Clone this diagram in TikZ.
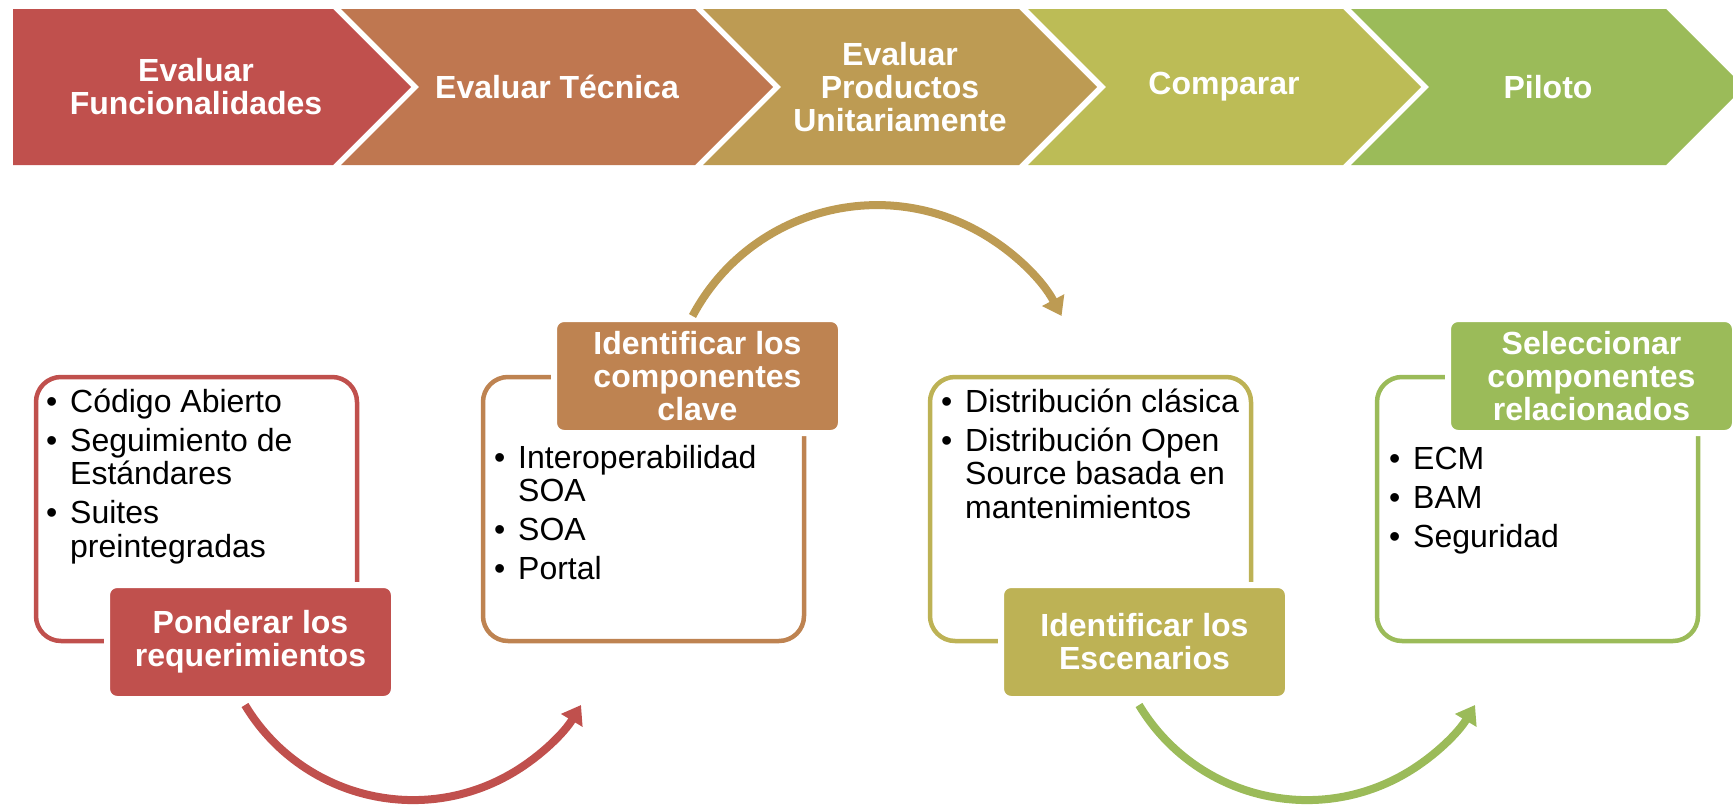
\documentclass[tikz,border=0pt]{standalone}
\usepackage{fontspec}
\setmainfont{Liberation Sans}
\usetikzlibrary{arrows.meta}
\definecolor{cA}{HTML}{C0504D}
\definecolor{cB}{HTML}{BF7750}
\definecolor{cC}{HTML}{BD9B53}
\definecolor{cD}{HTML}{BCBC56}
\definecolor{cE}{HTML}{9BBB59}
\definecolor{bB}{HTML}{BE8351}
\definecolor{bC}{HTML}{BDB255}
\newcommand{\bitem}[1]{\hangindent=24pt\hangafter=1\noindent\makebox[24pt][l]{•}#1\par}
\newcommand{\bgap}{\vspace{5.5pt}}
\begin{document}
\begin{tikzpicture}[x=1pt,y=-1pt,
  chevtext/.style={text=white, font=\fontsize{32}{33}\selectfont\bfseries, align=center, inner sep=0pt},
  outlinebox/.style={draw=#1, line width=4.5pt, rounded corners=25pt, minimum width=321pt, minimum height=264pt, inner sep=0pt},
  titlebox/.style={fill=#1, draw=white, line width=6pt, rounded corners=10pt, minimum width=287pt, minimum height=114pt, inner sep=0pt, text=white, font=\fontsize{32}{33}\selectfont\bfseries, align=center},
  bullets/.style={anchor=base west, inner sep=0pt, font=\fontsize{32}{33.5}\selectfont},
  flow/.style={line width=8pt, -{Triangle[length=18pt,width=24pt]}}]
\useasboundingbox (0,0) rectangle (1733,806);
% chevrons
\fill[cA] (13,9) -- (333,9) -- (411,87) -- (333,165) -- (13,165) -- cycle;
\fill[cB] (341,9) -- (695,9) -- (773,87) -- (695,165) -- (341,165) -- (419,87) -- cycle;
\fill[cC] (703,9) -- (1019,9) -- (1097,87) -- (1019,165) -- (703,165) -- (781,87) -- cycle;
\fill[cD] (1028,9) -- (1343,9) -- (1421,87) -- (1343,165) -- (1028,165) -- (1106,87) -- cycle;
\fill[cE] (1351,9) -- (1666,9) -- (1744,87) -- (1666,165) -- (1351,165) -- (1429,87) -- cycle;
\node[chevtext] (h1) at (196,87) {Evaluar\\Funcionalidades};
\node[chevtext] (h2) at (557,87) {Evaluar Técnica};
\node[chevtext] (h3) at (900,87) {Evaluar\\Productos\\Unitariamente};
\node[chevtext] (h4) at (1224,87) {Comparar};
\node[chevtext] (h5) at (1548,87) {Piloto};
% outline boxes
\node[outlinebox=cA] (o1) at (196.5,509) {};
\node[outlinebox=bB] (o2) at (643.5,509) {};
\node[outlinebox=bC] (o3) at (1090.5,509) {};
\node[outlinebox=cE] (o4) at (1537.5,509) {};
% title boxes
\node[titlebox=cA] (p1) at (250.5,642) {Ponderar los\\requerimientos};
\node[titlebox=bB] (p2) at (697.5,376) {Identificar los\\componentes\\clave};
\node[titlebox=bC] (p3) at (1144.5,642) {Identificar los\\Escenarios};
\node[titlebox=cE] (p4) at (1591.5,376) {Seleccionar\\componentes\\relacionados};
% bullet lists
\node[bullets] (l1) at (46,412) {\parbox[t]{300pt}{\fontsize{32}{33.5}\selectfont\raggedright
  \bitem{Código Abierto}\bgap\bitem{Seguimiento de\newline Estándares}\bgap\bitem{Suites\newline preintegradas}}};
\node[bullets] (l2) at (494,468) {\parbox[t]{300pt}{\fontsize{32}{33.5}\selectfont\raggedright
  \bitem{Interoperabilidad\newline SOA}\bgap\bitem{SOA}\bgap\bitem{Portal}}};
\node[bullets] (l3) at (941,412) {\parbox[t]{320pt}{\fontsize{32}{33.5}\selectfont\raggedright
  \bitem{Distribución clásica}\bgap\bitem{Distribución Open\newline Source basada en\newline mantenimientos}}};
\node[bullets] (l4) at (1389,469) {\parbox[t]{300pt}{\fontsize{32}{33.5}\selectfont\raggedright
  \bitem{ECM}\bgap\bitem{BAM}\bgap\bitem{Seguridad}}};
% curved arrows
\coordinate (a1) at (245,705);
\coordinate (a2) at (692.5,316);
\coordinate (a3) at (1139,705);
\draw[flow, cA] (a1) arc[start angle=149, end angle=31, radius=196];
\draw[flow, cC] (a2) arc[start angle=-152, end angle=-28, radius=209];
\draw[flow, cE] (a3) arc[start angle=149, end angle=31, radius=196];
\end{tikzpicture}
\end{document}
